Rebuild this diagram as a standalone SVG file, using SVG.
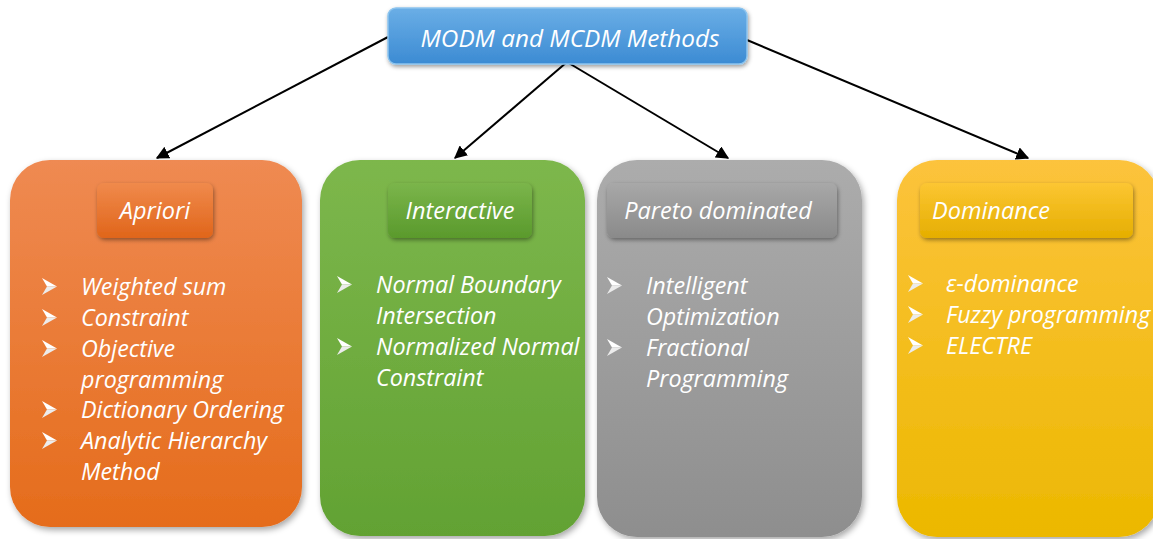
<svg xmlns="http://www.w3.org/2000/svg" width="1153" height="539" viewBox="0 0 1153 539">
  <style>
    .t { font-family: "Open Sans", "Liberation Sans", sans-serif; font-style: italic; fill: #ffffff; }
    .head { font-size: 23.5px; }
    .item { font-size: 23.3px; }
    .conn { stroke: #000000; stroke-width: 2; fill: none; marker-end: url(#arrow); }
  </style>
  <defs>
    <marker id="arrow" viewBox="0 0 10 10" refX="9" refY="5" markerWidth="6.5" markerHeight="6.5" markerUnits="strokeWidth" orient="auto">
      <path d="M0,0 L10,5 L0,10 Z" fill="#000000"/>
    </marker>
    <!-- list bullet: a notched arrowhead, origin at the text baseline -->
    <g id="bullet">
      <path d="M0,-17 L15,-8.5 L5,-8.5 Z" fill="#ffffff"/>
      <path d="M5,-8.5 L15,-8.5 L0,0 Z" fill="#ececec"/>
    </g>
    <filter id="shadow" x="-10%" y="-10%" width="125%" height="125%">
      <feDropShadow dx="2" dy="3" stdDeviation="3" flood-color="#000000" flood-opacity="0.35"/>
    </filter>
    <filter id="shadowSm" x="-10%" y="-20%" width="125%" height="150%">
      <feDropShadow dx="1" dy="2" stdDeviation="2" flood-color="#000000" flood-opacity="0.4"/>
    </filter>
    <linearGradient id="gBlue" x1="0" y1="0" x2="0" y2="1">
      <stop offset="0" stop-color="#6aaee6"/>
      <stop offset="1" stop-color="#3c8bd3"/>
    </linearGradient>
    <linearGradient id="gOrange" x1="0" y1="0" x2="0" y2="1">
      <stop offset="0" stop-color="#ef8a52"/>
      <stop offset="1" stop-color="#e56c1b"/>
    </linearGradient>
    <linearGradient id="gOrangeIn" x1="0" y1="0" x2="0" y2="1">
      <stop offset="0" stop-color="#f08a4c"/>
      <stop offset="1" stop-color="#e0651a"/>
    </linearGradient>
    <linearGradient id="gGreen" x1="0" y1="0" x2="0" y2="1">
      <stop offset="0" stop-color="#7db74c"/>
      <stop offset="1" stop-color="#62a233"/>
    </linearGradient>
    <linearGradient id="gGreenIn" x1="0" y1="0" x2="0" y2="1">
      <stop offset="0" stop-color="#7bb54b"/>
      <stop offset="1" stop-color="#5a9a2c"/>
    </linearGradient>
    <linearGradient id="gGray" x1="0" y1="0" x2="0" y2="1">
      <stop offset="0" stop-color="#acacac"/>
      <stop offset="1" stop-color="#8e8e8e"/>
    </linearGradient>
    <linearGradient id="gGrayIn" x1="0" y1="0" x2="0" y2="1">
      <stop offset="0" stop-color="#a8a8a8"/>
      <stop offset="1" stop-color="#8a8a8a"/>
    </linearGradient>
    <linearGradient id="gYellow" x1="0" y1="0" x2="0" y2="1">
      <stop offset="0" stop-color="#fcc33c"/>
      <stop offset="1" stop-color="#ecb800"/>
    </linearGradient>
    <linearGradient id="gYellowIn" x1="0" y1="0" x2="0" y2="1">
      <stop offset="0" stop-color="#fcc633"/>
      <stop offset="1" stop-color="#e5ae00"/>
    </linearGradient>
  </defs>

  <rect width="1153" height="539" fill="#ffffff"/>

  <!-- connectors from the root to each category -->
  <g id="connectors">
    <line class="conn" x1="388" y1="37" x2="157" y2="158"/>
    <line class="conn" x1="567" y1="62" x2="455" y2="158"/>
    <line class="conn" x1="567" y1="62" x2="728" y2="158"/>
    <line class="conn" x1="747" y1="40" x2="1028" y2="158"/>
  </g>

  <!-- root -->
  <g id="root">
    <rect x="388" y="8" width="359" height="56" rx="8" fill="url(#gBlue)" stroke="#8cc4ee" stroke-width="1.5" filter="url(#shadowSm)"/>
    <text class="t" x="570" y="47" font-size="24.3" text-anchor="middle">MODM and MCDM Methods</text>
  </g>

  <!-- Apriori -->
  <g id="apriori">
    <rect x="10" y="160" width="292" height="367" rx="40" fill="url(#gOrange)" filter="url(#shadow)"/>
    <rect x="97" y="183" width="116" height="55" rx="7" fill="url(#gOrangeIn)" filter="url(#shadowSm)"/>
    <text class="t head" x="155" y="219" text-anchor="middle">Apriori</text>
    <use href="#bullet" x="42" y="295"/>
    <text class="t item" x="81" y="295">Weighted sum</text>
    <use href="#bullet" x="42" y="326"/>
    <text class="t item" x="81" y="326">Constraint</text>
    <use href="#bullet" x="42" y="357"/>
    <text class="t item" x="81" y="357">Objective</text>
    <text class="t item" x="81" y="388">programming</text>
    <use href="#bullet" x="42" y="418"/>
    <text class="t item" x="81" y="418">Dictionary Ordering</text>
    <use href="#bullet" x="42" y="449"/>
    <text class="t item" x="81" y="449">Analytic Hierarchy</text>
    <text class="t item" x="81" y="480">Method</text>
  </g>

  <!-- Interactive -->
  <g id="interactive">
    <rect x="320" y="160" width="265" height="376" rx="40" fill="url(#gGreen)" filter="url(#shadow)"/>
    <rect x="388" y="183" width="144" height="55" rx="7" fill="url(#gGreenIn)" filter="url(#shadowSm)"/>
    <text class="t head" x="460" y="219" text-anchor="middle">Interactive</text>
    <use href="#bullet" x="337" y="293"/>
    <text class="t item" x="376" y="293">Normal Boundary</text>
    <text class="t item" x="376" y="324">Intersection</text>
    <use href="#bullet" x="337" y="355"/>
    <text class="t item" x="376" y="355">Normalized Normal</text>
    <text class="t item" x="376" y="386">Constraint</text>
  </g>

  <!-- Pareto dominated -->
  <g id="pareto">
    <rect x="597" y="160" width="265" height="377" rx="40" fill="url(#gGray)" filter="url(#shadow)"/>
    <rect x="607" y="183" width="230" height="55" rx="7" fill="url(#gGrayIn)" filter="url(#shadowSm)"/>
    <text class="t head" x="718" y="219" text-anchor="middle">Pareto dominated</text>
    <use href="#bullet" x="607" y="294"/>
    <text class="t item" x="646" y="294">Intelligent</text>
    <text class="t item" x="646" y="325">Optimization</text>
    <use href="#bullet" x="607" y="356"/>
    <text class="t item" x="646" y="356">Fractional</text>
    <text class="t item" x="646" y="387">Programming</text>
  </g>

  <!-- Dominance -->
  <g id="dominance">
    <rect x="897" y="160" width="262" height="377" rx="40" fill="url(#gYellow)" filter="url(#shadow)"/>
    <rect x="920" y="183" width="213" height="55" rx="7" fill="url(#gYellowIn)" filter="url(#shadowSm)"/>
    <text class="t head" x="932" y="219">Dominance</text>
    <use href="#bullet" x="908" y="292"/>
    <text class="t item" x="946" y="292">ε-dominance</text>
    <use href="#bullet" x="908" y="323"/>
    <text class="t item" x="946" y="323">Fuzzy programming</text>
    <use href="#bullet" x="908" y="354"/>
    <text class="t item" x="946" y="354">ELECTRE</text>
  </g>
</svg>
